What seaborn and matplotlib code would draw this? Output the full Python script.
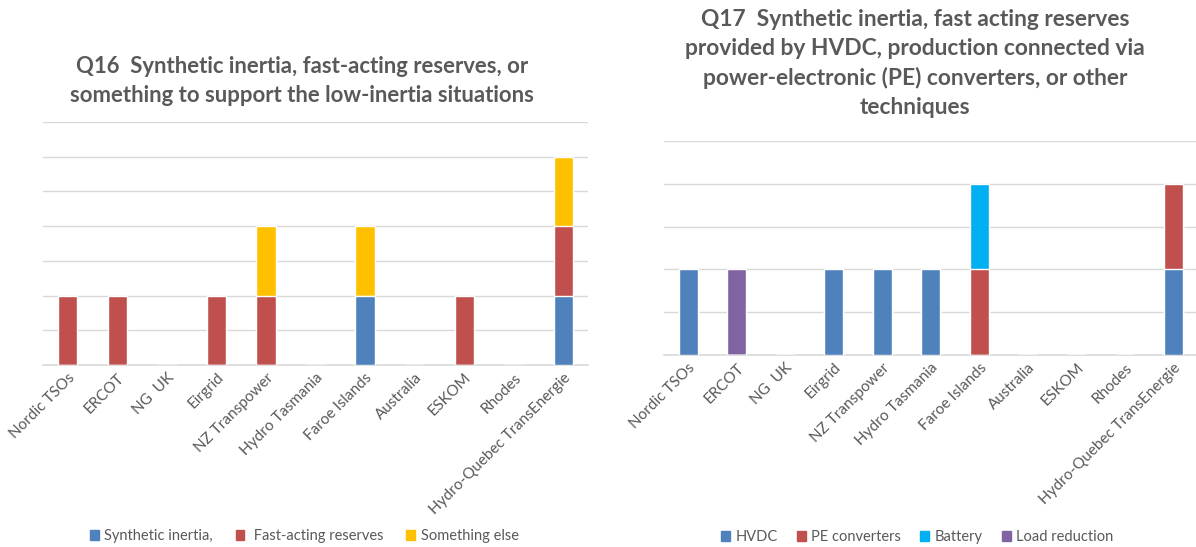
import matplotlib
matplotlib.use("Agg")
import matplotlib.pyplot as plt
import seaborn as sns
import pandas as pd
import numpy as np
from matplotlib.patches import Patch

categories = ["Nordic TSOs", "ERCOT", "NG  UK", "Eirgrid", "NZ Transpower",
              "Hydro Tasmania", "Faroe Islands", "Australia", "ESKOM", "Rhodes",
              "Hydro-Quebec TransEnergie"]

# Q16 series (bottom to top)
q16_synthetic = [0, 0, 0, 0, 0, 0, 1, 0, 0, 0, 1]
q16_fast = [1, 1, 0, 1, 1, 0, 0, 0, 1, 0, 1]
q16_else = [0, 0, 0, 0, 1, 0, 1, 0, 0, 0, 1]

# Q17 series (bottom to top)
q17_hvdc = [1, 0, 0, 1, 1, 1, 0, 0, 0, 0, 1]
q17_pe = [0, 0, 0, 0, 0, 0, 1, 0, 0, 0, 1]
q17_battery = [0, 0, 0, 0, 0, 0, 1, 0, 0, 0, 0]
q17_load = [0, 1, 0, 0, 0, 0, 0, 0, 0, 0, 0]

q16_title = "Q16  Synthetic inertia, fast-acting reserves, or\nsomething to support the low-inertia situations"
q17_title = ("Q17  Synthetic inertia, fast acting reserves\nprovided by HVDC, production connected via\n"
             "power-electronic (PE) converters, or other\ntechniques")

BLUE = "#4F81BD"
RED = "#C0504D"
YELLOW = "#FFC000"
CYAN = "#00B0F0"
PURPLE = "#8064A2"
GRID = "#D9D9D9"
TXT = "#595959"

sns.set_theme(style="white")
plt.rcParams["font.family"] = ["Lato", "DejaVu Sans"]

fig = plt.figure(figsize=(11.96, 5.47), dpi=100)
ax1 = fig.add_axes([0.036, 0.3327, 0.4557, 0.4442])
ax2 = fig.add_axes([0.555, 0.351, 0.4465, 0.391])


def stacked(ax, series, colors, ymax):
    # draw cumulative totals from the top series down so the stack shows
    cum = np.cumsum(np.array(series, dtype=float), axis=0)
    for i in range(len(series) - 1, -1, -1):
        df = pd.DataFrame({"cat": categories, "val": cum[i]})
        sns.barplot(data=df, x="cat", y="val", color=colors[i], width=0.39,
                    saturation=1, ax=ax, order=categories, zorder=3)
    ax.set_ylim(0, ymax)
    ax.set_xlim(-0.5, len(categories) - 0.5)
    ax.set_yticks(np.arange(0, ymax + 0.01, 0.5))
    ax.set_yticklabels([])
    ax.yaxis.grid(True, color=GRID, linewidth=1.0, zorder=0)
    ax.set_axisbelow(True)
    ax.set_xlabel("")
    ax.set_ylabel("")
    for s in ["top", "right", "left"]:
        ax.spines[s].set_visible(False)
    ax.spines["bottom"].set_color(GRID)
    ax.spines["bottom"].set_linewidth(1.2)
    ax.tick_params(axis="y", length=0)
    ax.tick_params(axis="x", length=0, pad=4)
    ax.set_xticks(range(len(categories)))
    ax.set_xticklabels(categories, rotation=45, ha="right", rotation_mode="anchor",
                       fontsize=11, color=TXT)


stacked(ax1, [q16_synthetic, q16_fast, q16_else], [BLUE, RED, YELLOW], 3.5)
stacked(ax2, [q17_hvdc, q17_pe, q17_battery, q17_load], [BLUE, RED, CYAN, PURPLE], 2.5)

fig.text(0.2525, 0.852, q16_title, ha="center", va="center", fontsize=15.9,
         fontweight="bold", color=TXT, linespacing=1.42)
fig.text(0.765, 0.884, q17_title, ha="center", va="center", fontsize=16.4,
         fontweight="bold", color=TXT, linespacing=1.47)

h1 = [Patch(color=BLUE, label="Synthetic inertia,"),
      Patch(color=RED, label=" Fast-acting reserves"),
      Patch(color=YELLOW, label="Something else")]
fig.legend(handles=h1, loc="center", bbox_to_anchor=(0.2545, 0.02), ncol=3,
           frameon=False, fontsize=10.5, handlelength=0.6, handleheight=0.6,
           handletextpad=0.4, columnspacing=1.55, labelcolor=TXT)

h2 = [Patch(color=BLUE, label="HVDC"),
      Patch(color=RED, label="PE converters"),
      Patch(color=CYAN, label="Battery"),
      Patch(color=PURPLE, label="Load reduction")]
fig.legend(handles=h2, loc="center", bbox_to_anchor=(0.767, 0.018), ncol=4,
           frameon=False, fontsize=10.5, handlelength=0.6, handleheight=0.6,
           handletextpad=0.4, columnspacing=1.3, labelcolor=TXT)

fig.savefig("out.png", dpi=100)
